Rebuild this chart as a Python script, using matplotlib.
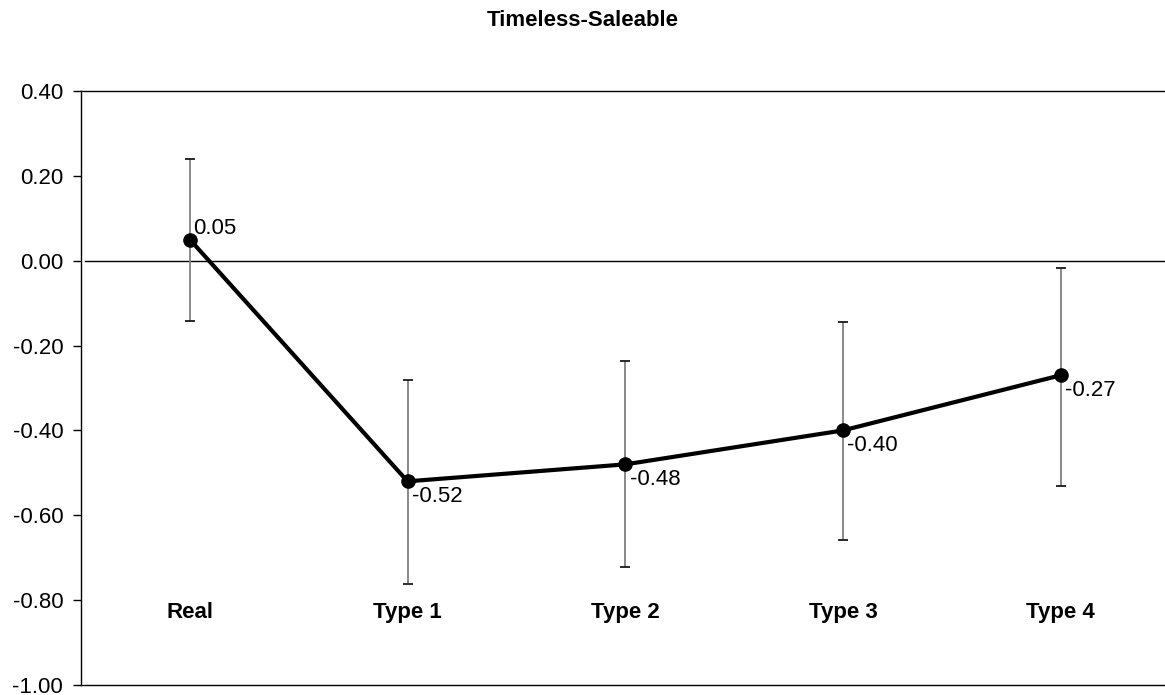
import matplotlib
matplotlib.use("Agg")
import matplotlib.pyplot as plt

plt.rcParams['font.family'] = ['Liberation Sans', 'DejaVu Sans']

categories = ["Real", "Type 1", "Type 2", "Type 3", "Type 4"]
means = [0.05, -0.52, -0.48, -0.40, -0.27]
upper = [0.24, -0.28, -0.236, -0.144, -0.016]
lower = [-0.142, -0.763, -0.722, -0.658, -0.532]
labels = ["0.05", "-0.52", "-0.48", "-0.40", "-0.27"]
yticks = [-1.0, -0.8, -0.6, -0.4, -0.2, 0.0, 0.2, 0.4]
title = "Timeless-Saleable"

W, H = 1165, 695
fig = plt.figure(figsize=(W / 100, H / 100), dpi=100)
left, right, top, bottom = 81, 1169.5, 91, 685
ax = fig.add_axes([left / W, 1 - bottom / H, (right - left) / W, (bottom - top) / H])

x = list(range(len(categories)))
ax.set_xlim(-0.5, len(categories) - 0.5)
ax.set_ylim(-1.0, 0.4)

err_lo = [m - l for m, l in zip(means, lower)]
err_hi = [u - m for m, u in zip(means, upper)]
eb = ax.errorbar(x, means, yerr=[err_lo, err_hi], fmt='none', ecolor='#808080',
                 elinewidth=1.3, capsize=3.6, capthick=1.3, zorder=2)
for cap in eb[1]:
    cap.set_markeredgecolor('#1a1a1a')
    cap.set_color('#1a1a1a')
ax.plot(x, means, color='black', lw=3.0, marker='o', ms=9.5, zorder=3)

ax.plot([-0.48, len(categories) - 0.5], [0, 0], color='black', lw=1.0, zorder=1)

fs = 16
for i, (m, lab) in enumerate(zip(means, labels)):
    if i == 0:
        ax.annotate(lab, (i, m), xytext=(2.5, 8), textcoords='offset points',
                    ha='left', va='center', fontsize=fs)
    else:
        ax.annotate(lab, (i, m), xytext=(3.2, -11), textcoords='offset points',
                    ha='left', va='center', fontsize=fs)

for i, c in enumerate(categories):
    ax.text(i, -0.83, c, ha='center', va='center', fontsize=fs, fontweight='bold')

ax.set_yticks(yticks)
ax.set_yticklabels([f"{v:.2f}" for v in yticks], fontsize=fs)
ax.set_xticks([])
ax.tick_params(axis='y', direction='out', length=5.8, width=1, pad=7)
for s in ['left', 'top', 'bottom', 'right']:
    ax.spines[s].set_linewidth(1.0)
    ax.spines[s].set_color('black')

fig.text(0.5, 1 - 21 / H, title, ha='center', va='center', fontsize=fs, fontweight='bold')

fig.savefig("out.png", dpi=100, facecolor='white')
